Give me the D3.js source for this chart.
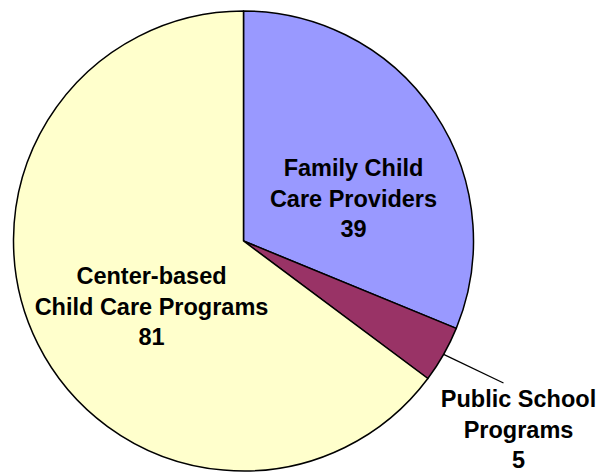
<!DOCTYPE html>
<html>
<head>
<meta charset="utf-8">
<script src="https://cdn.jsdelivr.net/npm/d3@7"></script>
<style>
  body { margin: 0; background: #fff; }
</style>
</head>
<body>
<div id="chart"></div>
<script>
const categories = ['Family Child Care Providers', 'Public School Programs', 'Center-based Child Care Programs'];
const values = [39, 5, 81];
const labelLines = [['Family Child', 'Care Providers'], ['Public School', 'Programs'], ['Center-based', 'Child Care Programs']];
const colors = ['#9999FF', '#993366', '#FFFFCC'];

const width = 600;
const height = 475;
const cx = 243.5;
const cy = 241;
const radius = 230;
const fontSize = 23.5;
const lineGap = 30.5;

// label block anchors, relative to pie centre (first baseline)
const labelPos = [[110, -65], [275, 166], [-92, 43]];

const svg = d3.select('#chart').append('svg')
  .attr('width', width).attr('height', height);

const pie = d3.pie().sort(null).value(d => d)(values);
const arc = d3.arc().innerRadius(0).outerRadius(radius);

const g = svg.append('g').attr('transform', `translate(${cx},${cy})`);

g.selectAll('path')
  .data(pie)
  .join('path')
  .attr('d', arc)
  .attr('fill', (d, i) => colors[i])
  .attr('stroke', '#000')
  .attr('stroke-width', 1.5)
  .attr('stroke-linejoin', 'round');

// leader line for the small slice
const small = pie[1];
const mid = (small.startAngle + small.endAngle) / 2;
const p0 = [Math.sin(mid) * radius, -Math.cos(mid) * radius];
g.append('line')
  .attr('x1', p0[0]).attr('y1', p0[1])
  .attr('x2', 260).attr('y2', 142)
  .attr('stroke', '#000')
  .attr('stroke-width', 1.3);

pie.forEach((d, i) => {
  const t = g.append('text')
    .attr('text-anchor', 'middle')
    .attr('font-family', 'Liberation Sans, Arial, sans-serif')
    .attr('font-weight', 'bold')
    .attr('font-size', fontSize)
    .attr('fill', '#000');
  const lines = labelLines[i].concat([String(values[i])]);
  lines.forEach((s, j) => {
    t.append('tspan')
      .attr('x', labelPos[i][0])
      .attr('y', labelPos[i][1] + j * lineGap)
      .text(s);
  });
});
</script>
</body>
</html>
